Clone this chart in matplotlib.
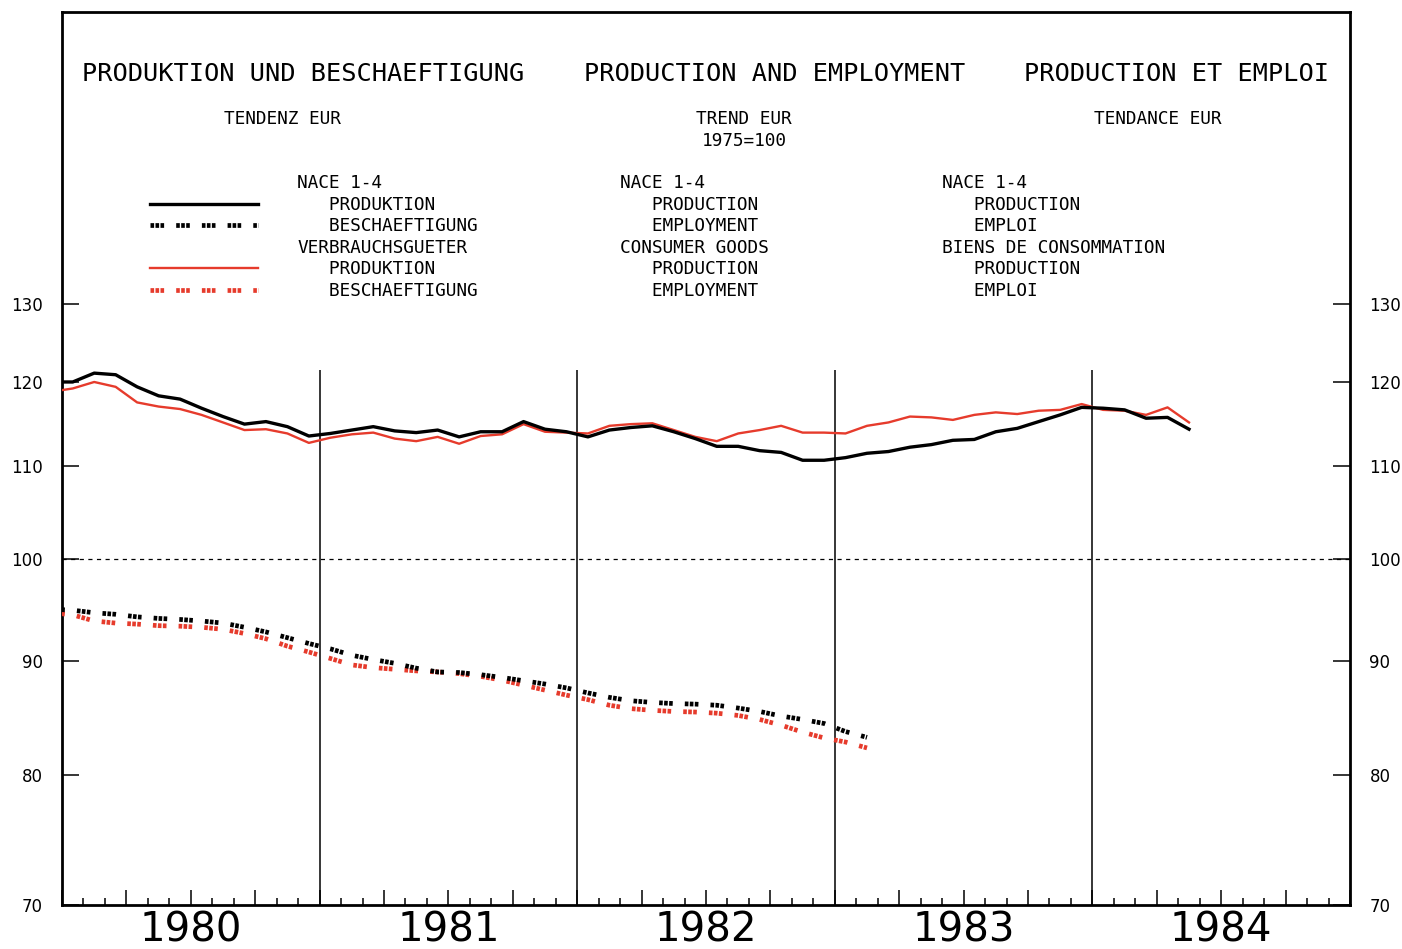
import numpy as np
import matplotlib.pyplot as plt
from matplotlib.ticker import FixedLocator, NullFormatter, FixedFormatter

plt.rcParams['lines.scale_dashes'] = False

# monthly values, Dec 1979 .. (mid-month positions)
prod_nace = [120.0, 120.0, 121.1, 120.9, 119.4, 118.3, 117.9, 116.8, 115.8, 114.9, 115.2,
             114.6, 113.5, 113.8, 114.2, 114.6, 114.1, 113.9, 114.2, 113.4, 114.0,
             114.0, 115.2, 114.3, 114.0, 113.4, 114.2, 114.5, 114.7, 114.0, 113.2,
             112.3, 112.3, 111.8, 111.6, 110.7, 110.7, 111.0, 111.5, 111.7, 112.2,
             112.5, 113.0, 113.1, 114.0, 114.4, 115.2, 116.0, 116.9, 116.8, 116.6,
             115.6, 115.7, 114.3]
prod_cons = [118.8, 119.2, 120.0, 119.4, 117.5, 117.0, 116.7, 116.0, 115.1, 114.2, 114.3,
             113.8, 112.7, 113.3, 113.7, 113.9, 113.2, 112.9, 113.4, 112.6, 113.5,
             113.7, 114.9, 114.0, 113.9, 113.8, 114.7, 114.9, 115.0, 114.2, 113.4,
             112.9, 113.8, 114.2, 114.7, 113.9, 113.9, 113.8, 114.7, 115.1, 115.8,
             115.7, 115.4, 116.0, 116.3, 116.1, 116.5, 116.6, 117.3, 116.6, 116.5,
             116.0, 116.9, 115.1]
empl_nace = [94.95, 94.85, 94.6, 94.45, 94.2, 94.05, 93.95, 93.8, 93.6, 93.2, 92.75,
             92.2, 91.65, 91.15, 90.55, 90.15, 89.8, 89.35, 89.0, 88.95, 88.75,
             88.5, 88.2, 87.9, 87.55, 87.1, 86.7, 86.4, 86.25, 86.15, 86.1,
             86.0, 85.75, 85.45, 85.05, 84.75, 84.4, 83.7, 83.2]
empl_cons = [94.6, 94.4, 93.8, 93.6, 93.5, 93.35, 93.3, 93.2, 93.0, 92.6, 92.1,
             91.4, 90.85, 90.25, 89.65, 89.4, 89.25, 89.1, 89.0, 88.85, 88.6,
             88.25, 87.8, 87.35, 86.9, 86.5, 86.0, 85.7, 85.55, 85.45, 85.4,
             85.3, 85.1, 84.75, 84.25, 83.65, 83.15, 82.8, 82.3]

years = [1980, 1981, 1982, 1983, 1984]
yticks = [70, 80, 90, 100, 110, 120, 130]

t_prod = 1980 + (np.arange(len(prod_nace)) - 0.5) / 12
t_empl = 1980 + (np.arange(len(empl_nace)) - 0.5) / 12

RED = '#e63b2c'
dots = (0, (2.6, 1.0, 2.6, 1.0, 2.6, 8.7))

fig = plt.figure(figsize=(14.02, 9.49), dpi=100)
ax = fig.add_axes([62/1402, 1 - 905/949, 1288/1402, 893/949])

ax.set_yscale('log')
ax.set_xlim(1980, 1985)
ax.set_ylim(70, 175.7)

ax.plot(t_prod, prod_nace, color='black', lw=2.4, zorder=4)
ax.plot(t_prod, prod_cons, color=RED, lw=1.7, zorder=3)
ax.plot(t_empl, empl_nace, color='black', lw=3.4, ls=dots, zorder=4)
ax.plot(t_empl, empl_cons, color=RED, lw=3.4, ls=dots, zorder=3)

# reference line and year separators
ax.axhline(100, color='black', lw=0.9, ls=(0, (3, 3.2)))
ax.vlines(years[1:], 70, 121.5, color='black', lw=1.1)

for s in ax.spines.values():
    s.set_linewidth(2.0)

# axes ticks
ax.yaxis.set_major_locator(FixedLocator(yticks))
ax.yaxis.set_major_formatter(FixedFormatter([str(v) for v in yticks]))
ax.yaxis.set_minor_locator(FixedLocator([]))
ax.yaxis.set_minor_formatter(NullFormatter())
ax.tick_params(axis='y', which='major', direction='in', length=12, width=1.1,
               left=True, right=True, labelleft=True, labelright=True,
               labelsize=12, pad=14)

quarters = [1980 + q / 4 for q in range(21)]
months = [1980 + m / 12 for m in range(61) if m % 3 != 0]
ax.xaxis.set_major_locator(FixedLocator(quarters))
ax.xaxis.set_minor_locator(FixedLocator(months))
ax.xaxis.set_major_formatter(NullFormatter())
ax.tick_params(axis='x', which='major', direction='in', length=11, width=1.1)
ax.tick_params(axis='x', which='minor', direction='in', length=5, width=1.1)

xtrans = ax.get_xaxis_transform()
for y in years:
    ax.text(y + 0.5, -0.029, str(y), transform=xtrans, ha='center', va='center',
            fontsize=29, family='DejaVu Sans')

# header texts
mono = 'DejaVu Sans Mono'
def ftext(x, y, s, size=12.8, ha='left'):
    fig.text(x / 1402, 1 - y / 949, s, ha=ha, va='center', fontsize=size, family=mono)

ftext(303, 74, 'PRODUKTION UND BESCHAEFTIGUNG', 18.2, 'center')
ftext(775, 74, 'PRODUCTION AND EMPLOYMENT', 18.2, 'center')
ftext(1177, 74, 'PRODUCTION ET EMPLOI', 18.2, 'center')
ftext(282, 119, 'TENDENZ EUR', ha='center')
ftext(744, 119, 'TREND EUR', ha='center')
ftext(744, 141, '1975=100', ha='center')
ftext(1158, 119, 'TENDANCE EUR', ha='center')

rows = [183, 205, 226, 248, 269, 291]
cols = [
    ['NACE 1-4', '   PRODUKTION', '   BESCHAEFTIGUNG', 'VERBRAUCHSGUETER', '   PRODUKTION', '   BESCHAEFTIGUNG'],
    ['NACE 1-4', '   PRODUCTION', '   EMPLOYMENT', 'CONSUMER GOODS', '   PRODUCTION', '   EMPLOYMENT'],
    ['NACE 1-4', '   PRODUCTION', '   EMPLOI', 'BIENS DE CONSOMMATION', '   PRODUCTION', '   EMPLOI'],
]
for x0, col in zip([297, 620, 942], cols):
    for y, s in zip(rows, col):
        ftext(x0, y, s)

# legend samples
lx = [(150 - 62) / 1288, (258 - 62) / 1288]
def ly(y):
    return (905 - y) / 893
ax.plot(lx, [ly(204)] * 2, color='black', lw=2.4, transform=ax.transAxes)
ax.plot(lx, [ly(225)] * 2, color='black', lw=3.4, ls=dots, transform=ax.transAxes)
ax.plot(lx, [ly(268)] * 2, color=RED, lw=1.7, transform=ax.transAxes)
ax.plot(lx, [ly(290)] * 2, color=RED, lw=3.4, ls=dots, transform=ax.transAxes)

fig.savefig('out.png', dpi=100)
